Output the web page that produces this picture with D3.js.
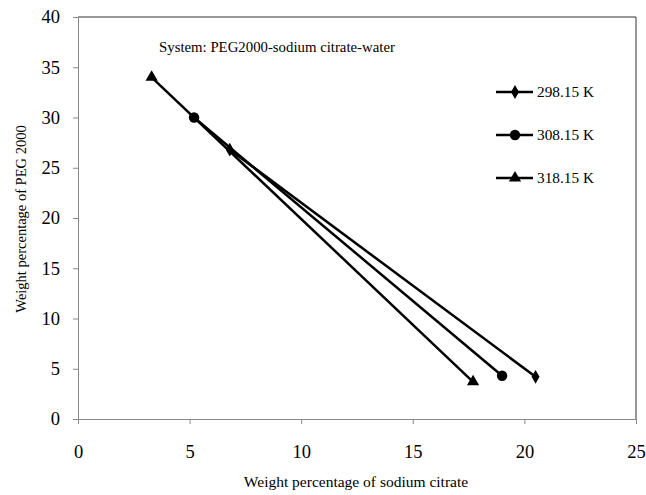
<!DOCTYPE html>
<html>
<head>
<meta charset="utf-8">
<script src="https://cdn.jsdelivr.net/npm/d3@7"></script>
<style>
  body { margin: 0; background: #fff; }
  text { font-family: "Liberation Serif", "Times New Roman", serif; fill: #000; }
</style>
</head>
<body>
<div id="chart"></div>
<script>
// data
var seriesNames = ["298.15 K", "308.15 K", "318.15 K"];
var citrate298 = [6.8, 20.5];
var peg298     = [26.8, 4.2];
var citrate308 = [5.2, 19.0];
var peg308     = [30.0, 4.3];
var citrate318 = [3.3, 17.7];
var peg318     = [34.0, 3.7];
var xTicks = [0, 5, 10, 15, 20, 25];
var yTicks = [0, 5, 10, 15, 20, 25, 30, 35, 40];

var width = 646, height = 495;
var margin = {left: 78, right: 10, top: 17, bottom: 76};

var svg = d3.select("#chart").append("svg")
    .attr("width", width)
    .attr("height", height);

var x = d3.scaleLinear().domain([0, 25]).range([margin.left, width - margin.right]);
var y = d3.scaleLinear().domain([0, 40]).range([height - margin.bottom, margin.top]);

// plot frame (top and right)
svg.append("path")
    .attr("d", "M" + x(0) + "," + y(40) + "H" + x(25) + "V" + y(0))
    .attr("fill", "none")
    .attr("stroke", "#333")
    .attr("stroke-width", 1);

// axes
var xAxis = d3.axisBottom(x).tickValues(xTicks).tickSizeOuter(0).tickSizeInner(5).tickPadding(21);
var yAxis = d3.axisLeft(y).tickValues(yTicks).tickSizeOuter(0).tickSizeInner(5).tickPadding(13);

var gx = svg.append("g")
    .attr("transform", "translate(0," + y(0) + ")")
    .call(xAxis);
var gy = svg.append("g")
    .attr("transform", "translate(" + x(0) + ",0)")
    .call(yAxis);

[gx, gy].forEach(function(g) {
  g.select(".domain").attr("stroke", "#888");
  g.selectAll(".tick line").attr("stroke", "#888");
  g.selectAll(".tick text")
    .style("font-family", "'Liberation Serif', serif")
    .style("font-size", "18.5px")
    .attr("fill", "#000");
});

// series
var series = [
  {name: seriesNames[0], xs: citrate298, ys: peg298, symbol: d3.symbolDiamond, size: 55},
  {name: seriesNames[1], xs: citrate308, ys: peg308, symbol: d3.symbolCircle, size: 85},
  {name: seriesNames[2], xs: citrate318, ys: peg318, symbol: d3.symbolTriangle, size: 65}
];

var line = d3.line()
    .x(function(d) { return x(d[0]); })
    .y(function(d) { return y(d[1]); });

series.forEach(function(s) {
  var pts = d3.zip(s.xs, s.ys);
  svg.append("path")
      .datum(pts)
      .attr("d", line)
      .attr("fill", "none")
      .attr("stroke", "#000")
      .attr("stroke-width", 2.5);
  svg.selectAll(null)
      .data(pts)
      .enter().append("path")
      .attr("d", d3.symbol().type(s.symbol).size(s.size))
      .attr("transform", function(d) { return "translate(" + x(d[0]) + "," + y(d[1]) + ")"; })
      .attr("fill", "#000");
});

// annotation
svg.append("text")
    .attr("x", 159)
    .attr("y", 52)
    .style("font-size", "14.8px")
    .text("System: PEG2000-sodium citrate-water");

// legend
var legend = svg.selectAll(".legend")
    .data(series)
    .enter().append("g")
    .attr("class", "legend")
    .attr("transform", function(d, i) { return "translate(496," + (92 + i * 43) + ")"; });

legend.append("line")
    .attr("x1", 0).attr("x2", 37)
    .attr("stroke", "#000")
    .attr("stroke-width", 2.5);

legend.append("path")
    .attr("d", function(d) { return d3.symbol().type(d.symbol).size(d.size)(); })
    .attr("transform", "translate(19,0)")
    .attr("fill", "#000");

legend.append("text")
    .attr("x", 41)
    .attr("dy", "0.35em")
    .style("font-size", "15.3px")
    .text(function(d) { return d.name; });

// axis titles
svg.append("text")
    .attr("x", 356)
    .attr("y", 487)
    .attr("text-anchor", "middle")
    .style("font-size", "15.5px")
    .text("Weight percentage of sodium citrate");

svg.append("text")
    .attr("transform", "translate(26,219) rotate(-90)")
    .attr("text-anchor", "middle")
    .style("font-size", "14.5px")
    .text("Weight percentage of PEG 2000");
</script>
</body>
</html>
